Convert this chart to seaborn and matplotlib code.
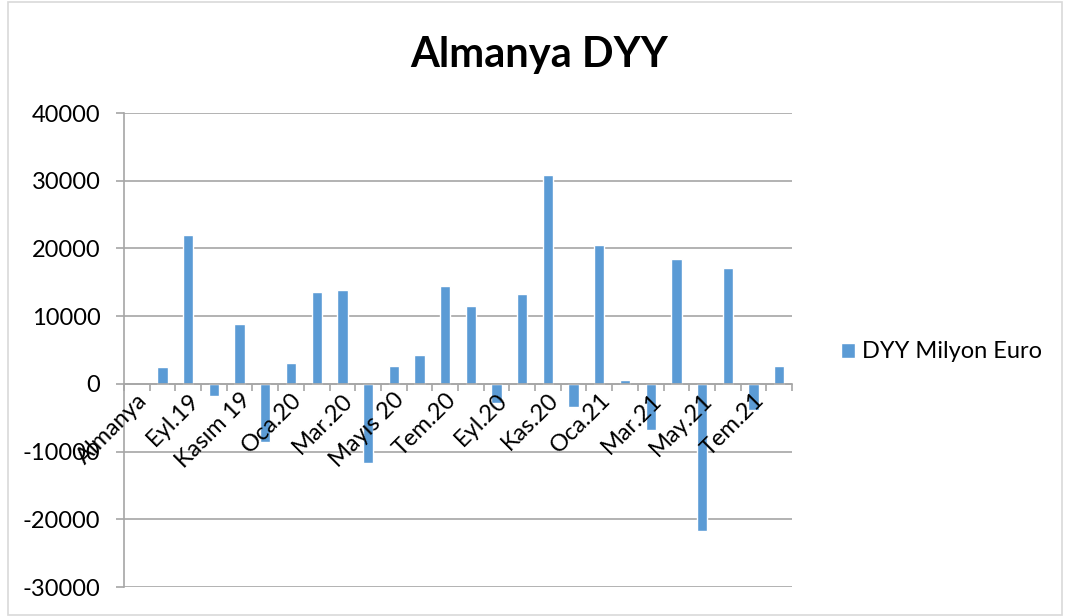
import numpy as np
import pandas as pd
import matplotlib.pyplot as plt
import seaborn as sns
from matplotlib.patches import Rectangle

# Veriler
aylar = ["Almanya", "Ağu.19", "Eyl.19", "Eki.19", "Kasım 19", "Ara.19", "Oca.20", "Şub.20",
         "Mar.20", "Nis.20", "Mayıs 20", "Haz.20", "Tem.20", "Ağu.20", "Eyl.20", "Eki.20",
         "Kas.20", "Ara.20", "Oca.21", "Şub.21", "Mar.21", "Nis.21", "May.21", "Haz.21",
         "Tem.21", "Ağu.21"]
dyy = [np.nan, 2500, 22000, -1800, 8900, -8550, 3100, 13500,
       13900, -11700, 2700, 4200, 14400, 11500, -2800, 13250,
       30800, -3400, 20500, 550, -6800, 18400, -21800, 17100,
       -3800, 2600]
seri_adi = "DYY Milyon Euro"
y_ticks = [-30000, -20000, -10000, 0, 10000, 20000, 30000, 40000]

df = pd.DataFrame({"Ay": aylar, "DYY": dyy})

sns.set_style("white")
plt.rcParams["font.family"] = ["Lato", "DejaVu Sans"]
plt.rcParams["axes.unicode_minus"] = False
plt.rcParams["text.color"] = "black"

fig = plt.figure(figsize=(10.65, 6.16), dpi=100)
ax = fig.add_axes([124 / 1065, 1 - 587 / 616, (792 - 124) / 1065, (587 - 113) / 616])

# ızgara çizgileri çubukların arkasında
for yt in y_ticks:
    ax.axhline(yt, color="#a6a6a6", linewidth=1.2, zorder=0.5)

sns.barplot(data=df, x="Ay", y="DYY", color="#5B9BD5", width=0.4,
            label=seri_adi, ax=ax, saturation=1, zorder=1)
ax.set_axisbelow(False)

ax.set_ylim(-30000, 40000)
ax.set_xlim(-0.5, len(aylar) - 0.5)
ax.set_yticks(y_ticks)

# x ekseni sıfırda
for s in ["top", "right"]:
    ax.spines[s].set_visible(False)
ax.spines["bottom"].set_position(("data", 0))
ax.spines["bottom"].set_color("#a6a6a6")
ax.spines["bottom"].set_linewidth(1.2)
ax.spines["left"].set_color("#a6a6a6")
ax.spines["left"].set_linewidth(1.2)

# etiketler her iki ayda bir
idx = np.arange(0, len(aylar), 2)
ax.set_xticks(idx)
ax.set_xticklabels([aylar[i] for i in idx], rotation=45, ha="right",
                   rotation_mode="anchor", fontsize=17)
ax.tick_params(axis="x", which="major", length=0, pad=4, labelcolor="black")
ax.set_xticks(np.arange(-0.5, len(aylar), 1), minor=True)
ax.tick_params(axis="x", which="minor", length=5, color="#a6a6a6", width=1.2,
               direction="out", bottom=True)
ax.tick_params(axis="y", length=6, color="#a6a6a6", width=1.2, labelsize=17,
               left=True, pad=11, labelcolor="black")
ax.set_xlabel("")
ax.set_ylabel("")

fig.text(539 / 1065, 1 - 67 / 616, "Almanya DYY", ha="center", va="baseline",
         fontsize=30, fontweight="bold")

ax.legend(loc="center left", bbox_to_anchor=(820 / 1065, 1 - 352 / 616),
          bbox_transform=fig.transFigure, frameon=False, fontsize=17,
          handlelength=0.6, handleheight=0.6, handletextpad=0.3)

# dış çerçeve
fig.patches.append(Rectangle((8 / 1065, 0.002), 1054 / 1065, 0.995, transform=fig.transFigure,
                             fill=False, edgecolor="#d9d9d9", linewidth=1.2))

fig.savefig("out.png", dpi=100)
